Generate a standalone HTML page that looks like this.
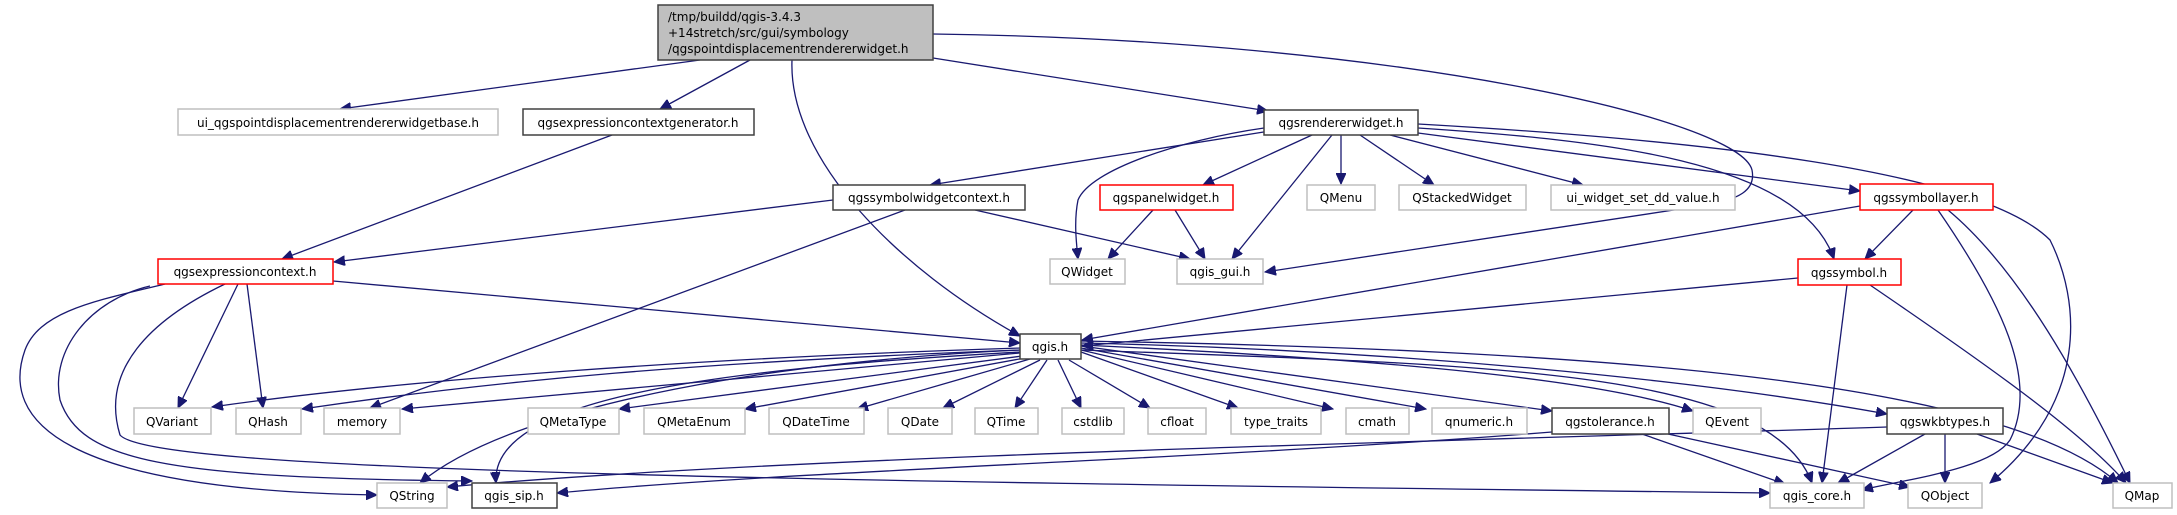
<!DOCTYPE html>
<html><head><meta charset="utf-8"><style>
html,body{margin:0;padding:0;background:#fff;}
svg{display:block;}
text{font-family:"DejaVu Sans","Liberation Sans",sans-serif;font-size:12px;fill:#000;}
.e{fill:none;stroke:#191970;stroke-width:1.3;}
.g{fill:#fff;stroke:#bfbfbf;stroke-width:1.5;}
.b{fill:#fff;stroke:#404040;stroke-width:1.5;}
.r{fill:#fff;stroke:#ff0000;stroke-width:1.5;}
</style></head><body>
<svg width="2177" height="515" viewBox="0 0 2177 515" xmlns="http://www.w3.org/2000/svg">
<defs><marker id="a" markerWidth="12" markerHeight="10" refX="11" refY="5" orient="auto" markerUnits="userSpaceOnUse"><path d="M0,0 L11,5 L0,10 Z" fill="#191970" stroke="#191970"/></marker></defs>
<g marker-end="url(#a)">
<!-- root -->
<path class="e" d="M700,60 L340,109"/>
<path class="e" d="M750,60 L660,109"/>
<path class="e" d="M792,60 C788,160 900,270 1020,336"/>
<path class="e" d="M933,58 L1268,111"/>
<path class="e" d="M933,34 C1400,40 1740,120 1752,170 C1756,190 1740,200 1700,206 L1265,272"/>
<!-- expressioncontextgenerator -->
<path class="e" d="M612,135 L282,259"/>
<!-- rendererwidget -->
<path class="e" d="M1270,131 L930,185"/>
<path class="e" d="M1312,135 L1203,185"/>
<path class="e" d="M1264,128 C1180,140 1090,170 1078,200 C1074,220 1076,240 1078,259"/>
<path class="e" d="M1332,135 L1232,259"/>
<path class="e" d="M1341,135 L1341,184"/>
<path class="e" d="M1360,135 L1434,185"/>
<path class="e" d="M1390,135 L1583,185"/>
<path class="e" d="M1418,133 L1860,191"/>
<path class="e" d="M1418,128 C1600,140 1800,160 1834,259"/>
<path class="e" d="M1418,124 C1700,140 1980,170 2050,240 C2080,300 2090,400 1990,483"/>
<!-- symbolwidgetcontext -->
<path class="e" d="M833,200 L334,262"/>
<path class="e" d="M905,210 L370,408"/>
<path class="e" d="M975,210 L1190,259"/>
<!-- panelwidget -->
<path class="e" d="M1153,210 L1108,259"/>
<path class="e" d="M1175,210 L1205,259"/>
<!-- symbollayer -->
<path class="e" d="M1913,210 L1865,259"/>
<path class="e" d="M1860,206 L1082,340"/>
<path class="e" d="M1938,210 C2000,300 2040,380 2010,440 C1990,470 1900,480 1862,490"/>
<path class="e" d="M1948,210 C2020,270 2080,380 2130,483"/>
<!-- symbol -->
<path class="e" d="M1798,278 L1082,346"/>
<path class="e" d="M1847,285 L1822,483"/>
<path class="e" d="M1870,285 C1980,360 2080,430 2126,483"/>
<!-- expressioncontext -->
<path class="e" d="M333,281 L1020,343"/>
<path class="e" d="M238,284 L178,408"/>
<path class="e" d="M247,284 L263,408"/>
<path class="e" d="M165,284 C100,300 40,310 25,350 C0,420 60,490 377,495"/>
<path class="e" d="M150,286 C90,300 50,350 60,400 C80,460 160,478 472,481"/>
<path class="e" d="M225,284 C150,320 100,370 120,435 C150,470 700,480 1770,493"/>
<!-- qgis.h -->
<path class="e" d="M1020,348 C700,358 400,380 212,407"/>
<path class="e" d="M1020,350 C700,362 500,380 302,409"/>
<path class="e" d="M1020,353 L402,409"/>
<path class="e" d="M1022,356 L619,409"/>
<path class="e" d="M1025,358 L745,409"/>
<path class="e" d="M1030,359 L857,409"/>
<path class="e" d="M1040,360 L943,408"/>
<path class="e" d="M1047,360 L1015,408"/>
<path class="e" d="M1058,360 L1081,408"/>
<path class="e" d="M1069,360 L1150,408"/>
<path class="e" d="M1081,352 L1238,408"/>
<path class="e" d="M1081,350 L1333,409"/>
<path class="e" d="M1081,348 L1426,409"/>
<path class="e" d="M1081,346 L1552,411"/>
<path class="e" d="M1081,345 C1400,360 1600,380 1693,411"/>
<path class="e" d="M1081,343 C1400,350 1700,380 1887,414"/>
<path class="e" d="M1020,350 C800,360 520,400 420,483"/>
<path class="e" d="M1020,352 C700,370 490,400 496,483"/>
<path class="e" d="M1081,350 C1500,365 1770,370 1812,483"/>
<path class="e" d="M1081,341 C1600,350 2000,380 2118,483"/>
<!-- qgstolerance -->
<path class="e" d="M1552,432 C1200,460 800,470 557,493"/>
<path class="e" d="M1642,434 L1785,484"/>
<path class="e" d="M1668,434 L1910,487"/>
<!-- qgswkbtypes -->
<path class="e" d="M1887,427 C1500,440 800,455 447,487"/>
<path class="e" d="M1925,434 L1838,483"/>
<path class="e" d="M1945,434 L1945,483"/>
<path class="e" d="M1977,434 L2113,483"/>
</g>
<!-- nodes -->
<rect x="658" y="5" width="275" height="55" fill="#bfbfbf" stroke="#404040" stroke-width="1.5"/>
<text x="668" y="21">/tmp/buildd/qgis-3.4.3</text>
<text x="668" y="37">+14stretch/src/gui/symbology</text>
<text x="668" y="53">/qgspointdisplacementrendererwidget.h</text>

<rect class="g" x="178" y="109" width="320" height="26"/><text x="338" y="127" text-anchor="middle">ui_qgspointdisplacementrendererwidgetbase.h</text>
<rect class="b" x="523" y="109" width="231" height="26"/><text x="638" y="127" text-anchor="middle">qgsexpressioncontextgenerator.h</text>
<rect class="b" x="1264" y="110" width="154" height="25"/><text x="1341" y="127" text-anchor="middle">qgsrendererwidget.h</text>

<rect class="b" x="833" y="185" width="192" height="25"/><text x="929" y="202" text-anchor="middle">qgssymbolwidgetcontext.h</text>
<rect class="r" x="1100" y="185" width="133" height="25"/><text x="1166" y="202" text-anchor="middle">qgspanelwidget.h</text>
<rect class="g" x="1307" y="185" width="68" height="25"/><text x="1341" y="202" text-anchor="middle">QMenu</text>
<rect class="g" x="1399" y="185" width="127" height="25"/><text x="1462" y="202" text-anchor="middle">QStackedWidget</text>
<rect class="g" x="1551" y="185" width="184" height="25"/><text x="1643" y="202" text-anchor="middle">ui_widget_set_dd_value.h</text>
<rect class="r" x="1860" y="184" width="133" height="26"/><text x="1926" y="202" text-anchor="middle">qgssymbollayer.h</text>

<rect class="r" x="158" y="259" width="175" height="25"/><text x="245" y="276" text-anchor="middle">qgsexpressioncontext.h</text>
<rect class="g" x="1050" y="259" width="75" height="25"/><text x="1087" y="276" text-anchor="middle">QWidget</text>
<rect class="g" x="1177" y="259" width="86" height="25"/><text x="1220" y="276" text-anchor="middle">qgis_gui.h</text>
<rect class="r" x="1798" y="259" width="103" height="26"/><text x="1849" y="277" text-anchor="middle">qgssymbol.h</text>

<rect class="b" x="1020" y="334" width="61" height="25"/><text x="1050" y="351" text-anchor="middle">qgis.h</text>

<rect class="g" x="134" y="408" width="77" height="26"/><text x="172" y="426" text-anchor="middle">QVariant</text>
<rect class="g" x="236" y="408" width="65" height="26"/><text x="268" y="426" text-anchor="middle">QHash</text>
<rect class="g" x="324" y="408" width="76" height="26"/><text x="362" y="426" text-anchor="middle">memory</text>
<rect class="g" x="528" y="408" width="91" height="26"/><text x="573" y="426" text-anchor="middle">QMetaType</text>
<rect class="g" x="644" y="408" width="101" height="26"/><text x="694" y="426" text-anchor="middle">QMetaEnum</text>
<rect class="g" x="769" y="408" width="95" height="26"/><text x="816" y="426" text-anchor="middle">QDateTime</text>
<rect class="g" x="888" y="408" width="64" height="26"/><text x="920" y="426" text-anchor="middle">QDate</text>
<rect class="g" x="975" y="408" width="63" height="26"/><text x="1006" y="426" text-anchor="middle">QTime</text>
<rect class="g" x="1062" y="408" width="62" height="26"/><text x="1093" y="426" text-anchor="middle">cstdlib</text>
<rect class="g" x="1148" y="408" width="58" height="26"/><text x="1177" y="426" text-anchor="middle">cfloat</text>
<rect class="g" x="1231" y="408" width="90" height="26"/><text x="1276" y="426" text-anchor="middle">type_traits</text>
<rect class="g" x="1346" y="408" width="63" height="26"/><text x="1377" y="426" text-anchor="middle">cmath</text>
<rect class="g" x="1432" y="408" width="95" height="26"/><text x="1479" y="426" text-anchor="middle">qnumeric.h</text>
<rect class="b" x="1552" y="408" width="117" height="26"/><text x="1610" y="426" text-anchor="middle">qgstolerance.h</text>
<rect class="g" x="1693" y="408" width="68" height="26"/><text x="1727" y="426" text-anchor="middle">QEvent</text>
<rect class="b" x="1887" y="408" width="116" height="26"/><text x="1945" y="426" text-anchor="middle">qgswkbtypes.h</text>

<rect class="g" x="377" y="483" width="70" height="25"/><text x="412" y="500" text-anchor="middle">QString</text>
<rect class="b" x="472" y="483" width="85" height="25"/><text x="514" y="500" text-anchor="middle">qgis_sip.h</text>
<rect class="g" x="1770" y="483" width="94" height="25"/><text x="1817" y="500" text-anchor="middle">qgis_core.h</text>
<rect class="g" x="1908" y="483" width="74" height="25"/><text x="1945" y="500" text-anchor="middle">QObject</text>
<rect class="g" x="2113" y="483" width="59" height="25"/><text x="2142" y="500" text-anchor="middle">QMap</text>
</svg>
</body></html>
